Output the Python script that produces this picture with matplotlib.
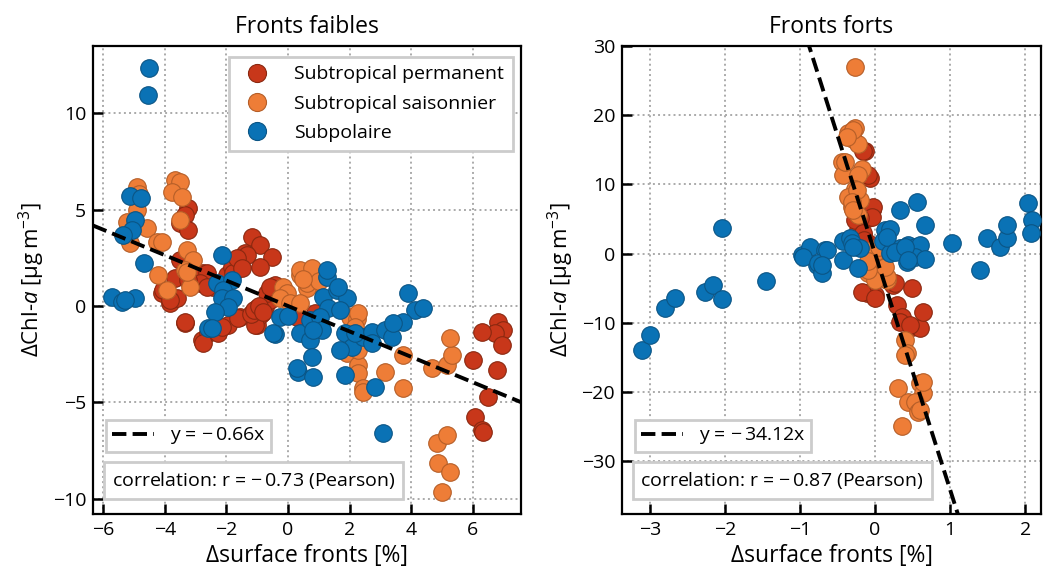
import matplotlib
matplotlib.use("Agg")
import matplotlib.pyplot as plt
import numpy as np
from matplotlib.lines import Line2D

plt.rcParams["font.family"] = ["Open Sans", "DejaVu Sans"]
plt.rcParams["mathtext.fontset"] = "custom"
plt.rcParams["mathtext.rm"] = "Open Sans"
plt.rcParams["mathtext.it"] = "Open Sans:italic"
plt.rcParams["font.size"] = 14

# Categories de fronts
CATEGORIES = ["Subtropical permanent", "Subtropical saisonnier", "Subpolaire"]
COULEURS = ["#c8371a", "#ee7d37", "#0a72b5"]
BORDS = ["#8a2810", "#b55e28", "#0b5585"]

# Fronts faibles : (delta surface [%], delta Chl-a)
FAIBLES_PERM_X = [-3.25, -3.34, -3.5, -3.25, -1.17, -0.91, -1.4, -0.52, -1.62, -3.5, -2.76, -3.67,
                  -4.09, -3.83, -3.6, -3.34, -2.79, -2.6, -2.63, -1.98, -1.82, -1.33, -1.79, -2.63,
                  -2.86, -2.44, -1.56, -1.95, -2.76, -2.27, -1.01, -0.91, -0.75, -0.58, -0.42, -0.68,
                  -0.36, -0.84, 0.29, 0.88, -4.06, -3.83, -3.34, -2.14, -1.62, -1.01, -0.91, -1.07,
                  -0.58, -0.91, -1.66, -1.49, -2.63, -3.25, 6.82, 6.98, 6.72, 6.3, 6.95, 6.0, 6.79,
                  6.49, 6.07, 6.3, 6.33, -1.2, -1.1, -0.95, -0.8]
FAIBLES_PERM_Y = [5.08, 4.7, 4.3, 3.94, 3.58, 3.16, 2.75, 2.54, 2.12, 2.38, 1.7, 1.45,
                  0.67, 0.16, 0.41, -0.88, -1.76, -1.4, 1.19, 1.6, 2.02, 2.64, 1.7, 1.7,
                  1.19, 0.98, -0.57, -0.98, -1.92, -1.4, -0.98, -0.21, -0.05, 0.31, 1.09, 0.67,
                  0.72, -0.36, -0.57, -0.36, 0.83, 0.31, -0.83, -1.09, -0.62, -0.1, -0.47, -0.98,
                  0.98, 2.02, 2.49, 1.97, 0.98, 1.35, -0.83, -1.24, -1.4, -1.35, -2.02, -2.8, -3.32,
                  -4.72, -5.75, -6.42, -6.53, -0.4, -0.2, 0.0, -0.3]

FAIBLES_SAIS_X = [-4.9, -3.67, -3.5, -3.77, -3.44, -4.9, -5.03, -5.23, -4.58, -3.5, -4.25, -4.09,
                  -5.13, -3.28, -3.08, -3.34, -4.22, -3.93, -3.18, -3.28, 0.39, 0.81, 0.71, 0.62,
                  -0.16, -0.03, -0.26, 0.06, 0.39, 2.01, 2.23, 1.92, 2.27, 2.27, 2.44, 0.78, 0.62,
                  2.27, 2.18, 2.34, 2.27, 2.44, 3.15, 3.73, 3.73, 4.68, 5.16, 5.32, 5.26, 4.84,
                  5.16, 4.87, 5.26, 5.0, 0.39, 0.78, 1.0, 0.5, -4.85]
FAIBLES_SAIS_Y = [6.17, 6.53, 6.42, 5.9, 5.65, 4.97, 4.35, 4.35, 4.04, 4.46, 3.32, 3.32,
                  3.26, 2.9, 2.38, 1.87, 1.6, 0.83, 0.98, 1.76, 1.6, 1.76, 1.09, 0.93,
                  0.98, 0.67, 0.41, 0.16, 0.16, -0.57, -0.67, -2.44, -3.06, -3.47, -4.25, 1.76, 1.19,
                  -0.36, -1.09, -1.66, -2.28, -4.46, -3.42, -2.54, -4.25, -3.21, -3.06, -2.54, -1.66, -7.1,
                  -6.68, -8.13, -8.6, -9.64, 1.87, 1.97, 1.3, 1.4, 5.8]

FAIBLES_POL_X = [-4.51, -4.55, -5.13, -4.77, -4.97, -5.06, -5.36, -4.68, -5.71, -5.39, -4.97, -5.3,
                 -2.14, -2.31, -1.82, -2.11, -2.14, -1.79, -1.95, -2.37, -2.6, -2.47, -0.26, 0.0,
                 -0.42, 0.39, 0.71, 0.78, 0.32, 0.81, 1.27, 1.14, 1.59, 1.92, 1.3, 1.69, 0.71, 1.04,
                 1.1, 1.85, 2.08, 1.69, 1.85, 2.44, 1.62, 0.81, 2.18, 2.73, 3.15, 3.38, 2.82, 3.08,
                 3.9, 4.12, 4.38, 3.73, 3.41, 2.73, -0.49, 0.29, 1.27]
FAIBLES_POL_Y = [12.38, 10.93, 5.7, 5.6, 4.46, 3.94, 3.68, 2.23, 0.47, 0.21, 0.41, 0.3,
                 2.64, 1.19, 1.35, 0.83, 0.41, 0.41, -0.05, -0.31, -1.14, -1.14, -0.57, -0.52,
                 -1.45, -1.4, -1.76, -2.64, -3.42, -3.68, 1.5, 0.47, 0.83, 0.41, -0.1, -0.21, -0.73, -0.57,
                 -1.24, -1.4, -2.12, -2.28, -3.58, -1.6, 0.98, -1.24, -1.4, -1.35, -1.24, -1.6, -4.2, -6.58,
                 0.67, -0.21, -0.1, -0.83, -0.88, -1.92, -1.4, -3.2, 1.87]

# Fronts forts
FORTS_PERM_X = [-0.13, -0.16, -0.07, -0.09, -0.13, -0.04, -0.09, -0.2, -0.23, -0.16, -0.03, -0.04,
                -0.2, -0.27, -0.16, -0.11, 0.0, 0.49, -0.17, 0.0, 0.24, 0.29, 0.36, 0.33, 0.49, 0.6,
                0.64, 0.17, 0.27, 0.47, -0.1, -0.05, 0.05, -0.15]
FORTS_PERM_Y = [14.9, 14.9, 11.0, 11.3, 6.6, 6.3, 5.1, 4.1, 3.4, 2.7, 6.7, 5.3,
                5.1, 4.8, 3.0, -5.7, -6.0, -5.0, -5.5, -6.4, -4.5, -7.4, -9.2, -9.9, -10.6, -10.8,
                -8.4, -3.8, -4.3, -10.3, 1.5, 0.5, -1.0, 2.0]

FORTS_SAIS_X = [-0.27, -0.27, -0.36, -0.29, -0.23, -0.44, -0.17, -0.43, -0.23, -0.27, -0.36, -0.2,
                -0.31, -0.23, -0.03, 0.0, -0.09, 0.09, 0.16, -0.29, -0.37, -0.4, -0.24, -0.31, -0.29,
                0.04, 0.16, 0.0, 0.13, -0.09, 0.4, 0.43, 0.4, 0.31, 0.6, 0.64, 0.44, 0.53, 0.57,
                0.36, 0.64, 0.6, -0.05, 0.05, -0.1]
FORTS_SAIS_Y = [26.9, 18.1, 17.4, 16.6, 15.9, 13.2, 12.3, 11.3, 11.3, 9.4, 8.2, 7.7,
                6.7, 5.6, -0.5, -1.9, -2.8, -2.8, -3.8, 17.8, 16.8, 13.2, 9.2, 7.4, 6.3,
                -3.1, -3.4, -3.8, -1.9, -2.4, -12.5, -14.4, -14.6, -19.4, -18.7, -20.1, -21.4, -21.4, -22.9,
                -24.9, -18.5, -22.6, 0.5, 1.0, -1.0]

FORTS_POL_X = [-3.11, -3.0, -2.8, -2.67, -2.27, -2.16, -2.04, -1.45, -0.97, -0.77, -2.04, -0.87,
               -0.67, -0.96, -0.76, -0.71, -0.43, -0.33, -0.31, -0.2, -0.43, -0.23, 0.33, 0.56,
               0.67, 0.13, 0.2, 0.11, 0.27, 0.33, 0.44, 0.53, 0.6, 0.43, 0.53, 0.67, 0.2, 1.03,
               1.4, 1.49, 1.67, 1.76, 1.76, 2.04, 2.09, 2.07, -0.64, -0.71, -0.29, 0.16, 0.27,
               0.4, 0.44]
FORTS_POL_Y = [-13.9, -11.8, -7.9, -6.4, -5.5, -4.5, -6.5, -4.0, -0.2, -1.7, 3.7, 0.9,
               0.5, -0.5, -1.4, -2.8, 1.9, 2.2, 1.5, 0.8, -0.9, -2.1, 6.3, 7.4,
               4.1, 3.4, 3.6, 1.9, 0.5, 0.8, 1.2, 0.9, 1.2, -1.2, -0.5, -0.7, 0.1, 1.5,
               -2.4, 2.2, 0.9, 2.2, 4.1, 7.3, 4.8, 3.0, 0.5, -1.7, 0.9, 2.4, 0.2,
               0.9, -0.9]

PENTE_FAIBLES = -0.66
PENTE_FORTS = -34.12
R_FAIBLES = -0.73
R_FORTS = -0.87

GRIS_CADRE = "#cccccc"


def style_axe(ax):
    for spine in ax.spines.values():
        spine.set_linewidth(1.6)
    ax.tick_params(direction="in", length=7, width=1.8, labelsize=14, pad=5)
    ax.grid(True, linestyle=":", color="#aaaaaa", linewidth=1.4)
    ax.set_axisbelow(True)


def tracer_panneau(ax, series, pente, r, xlim, ylim, titre, legende_categories):
    for (xs, ys), couleur, bord, nom in zip(series, COULEURS, BORDS, CATEGORIES):
        ax.scatter(xs, ys, s=160, c=couleur, edgecolors=bord, linewidths=0.8, zorder=3, label=nom)

    x_ligne = np.array(xlim)
    ligne, = ax.plot(x_ligne, pente * x_ligne, color="black", linestyle="--", linewidth=2.8,
                     zorder=4, label=f"y = $-\\,${abs(pente):.2f}x")
    ax.set_xlim(xlim)
    ax.set_ylim(ylim)
    ax.set_title(titre, fontsize=16.5, pad=9)
    ax.set_xlabel("Δsurface fronts [%]", fontsize=16.5)
    ax.set_ylabel(r"ΔChl-$a$ [μg$\,$m$^{-3}$]", fontsize=16)
    style_axe(ax)

    if legende_categories:
        poignees = [Line2D([], [], marker="o", linestyle="none", markersize=13,
                           markerfacecolor=c, markeredgecolor=b, markeredgewidth=0.8)
                    for c, b in zip(COULEURS, BORDS)]
        leg_cat = ax.legend(poignees, CATEGORIES, loc="upper right", bbox_to_anchor=(0.981, 0.977),
                            fontsize=14, fancybox=False, framealpha=1, edgecolor=GRIS_CADRE,
                            handletextpad=0.9, borderaxespad=0, labelspacing=0.58, borderpad=0.45)
        leg_cat.get_frame().set_linewidth(2)
        ax.add_artist(leg_cat)

    leg = ax.legend(handles=[ligne], loc="lower left", bbox_to_anchor=(0.007, 0.111), fontsize=14,
                    fancybox=False, framealpha=1, edgecolor=GRIS_CADRE, handlelength=2.2,
                    borderpad=0.3)
    leg.get_frame().set_linewidth(2)

    ax.text(0.044, 0.049, f"correlation: r = $-\\,${abs(r):.2f} (Pearson)", transform=ax.transAxes,
            fontsize=14, ha="left", va="bottom", zorder=5,
            bbox=dict(boxstyle="square,pad=0.4", fc="white", ec=GRIS_CADRE, lw=2))


def main():
    fig = plt.figure(figsize=(10.43, 5.79), dpi=100)
    ax1 = fig.add_axes([0.0892, 0.1123, 0.4104, 0.8083])
    ax2 = fig.add_axes([0.5964, 0.1123, 0.4017, 0.8083])

    series_faibles = [(FAIBLES_PERM_X, FAIBLES_PERM_Y), (FAIBLES_SAIS_X, FAIBLES_SAIS_Y),
                      (FAIBLES_POL_X, FAIBLES_POL_Y)]
    series_forts = [(FORTS_PERM_X, FORTS_PERM_Y), (FORTS_SAIS_X, FORTS_SAIS_Y),
                    (FORTS_POL_X, FORTS_POL_Y)]

    tracer_panneau(ax1, series_faibles, PENTE_FAIBLES, R_FAIBLES, (-6.33, 7.57), (-10.8, 13.5),
                   "Fronts faibles", True)
    tracer_panneau(ax2, series_forts, PENTE_FORTS, R_FORTS, (-3.37, 2.21), (-37.6, 30),
                   "Fronts forts", False)
    ax1.set_yticks([-10, -5, 0, 5, 10])
    ax2.set_yticks([-30, -20, -10, 0, 10, 20, 30])

    fig.savefig("out.png", dpi=100)


if __name__ == "__main__":
    main()
